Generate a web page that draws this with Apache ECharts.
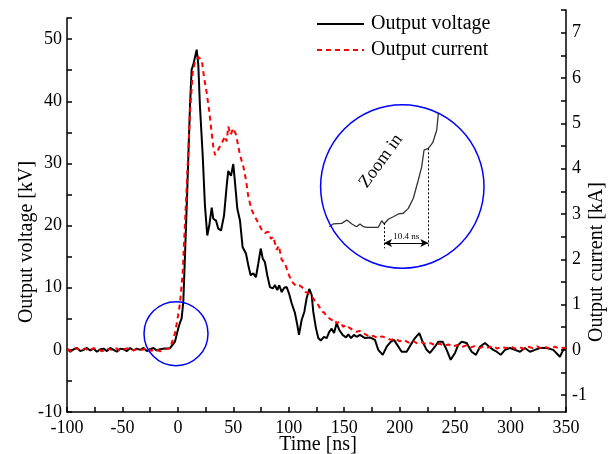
<!DOCTYPE html>
<html>
<head>
<meta charset="utf-8">
<script src="https://cdn.jsdelivr.net/npm/echarts@6/dist/echarts.min.js"></script>
<style>html,body{margin:0;padding:0;background:#fff}#c{width:611px;height:454px}</style>
</head>
<body>
<div id="c"></div>
<script>
// ---- data ----
const voltT = [-100,-97,-94,-91,-88,-85,-82,-79,-76,-73,-70,-67,-64,-61,-58,-55,-52,-49,-46,-43,-40,-37,-34,-31,-28,-25,-22,-19,-16,
  -12,-7.1,-2.6,0.36,1.9,3.4,4.9,6.4,8.5,10.9,12.4,13.9,16.95,18.4,19.9,22.4,24.4,26.5,28.3,30.5,31.9,34.4,36.4,38.9,41.6,44.0,45.4,47.0,47.9,49.95,
  51.5,53.6,56.0,58.4,61.4,63.5,65.6,68.0,70.4,72.5,74.7,76.5,78.5,80.6,83.0,85.5,87.6,89.6,91.4,93.6,95.9,98.1,100.2,102.6,105.6,107.7,109.2,
  111.6,114.0,116.1,118.5,120.7,122.1,124.5,126.6,128.8,131.7,134.2,136.5,138.7,140.8,143.2,145.5,148.6,151.6,153.7,156.1,158.8,161.2,164.2,
  168.7,173.2,177.7,180.7,184.7,188.3,191.9,194.9,197.8,201.8,206.3,209.9,213.8,217.7,220.7,224.3,227.3,231.8,234.8,238.8,242.4,246.0,249.9,
  252.8,255.9,260.4,264.9,268.8,272.4,276.9,280.8,284.4,287.5,291.1,295.0,299.5,304.0,308.5,313.0,317.5,322.0,326.5,332.5,338.5,344.5,347.5,350];
const voltV = [0.2,-0.3,0.1,0.3,-0.2,0,0.3,-0.1,0.2,-0.3,0.1,0.2,-0.2,0.3,0,-0.3,0.2,0.1,-0.2,0.3,-0.1,0.2,0,0.3,-0.2,0.1,0.3,-0.1,0.1,
  0.2,0.27,1.34,3.47,4.4,5.07,7.8,15.2,25.9,39.2,45.1,45.9,48.3,45.9,39.2,31.2,23.2,18.4,20.0,22.9,21.1,20.8,19.5,19.2,21.6,26.4,28.8,28.5,28.0,29.9,
  26.9,22.7,20.8,16.5,15.5,13.6,12.0,12.3,11.7,13.9,16.3,14.7,14.1,12.0,10.1,9.9,10.4,9.6,10.4,9.3,10.0,10.1,9.1,7.5,5.9,4.0,2.4,
  4.8,6.1,8.3,9.8,8.8,6.1,3.5,1.9,1.5,2.1,1.9,2.9,3.4,2.7,4.3,3.2,2.4,2.0,2.5,1.9,2.4,2.1,2.4,
  1.9,2.0,1.6,0,-0.8,0.5,1.3,1.6,0.8,-0.3,-0.3,0.8,1.9,2.7,1.3,0,-0.5,0.5,1.3,1.3,0,-1.6,-0.5,
  0.8,1.3,1.1,-0.3,-0.8,0.5,1.1,0.5,0,-0.3,-0.8,0,0.3,0,-0.3,0.3,-0.3,0,0.3,0.3,0,-1.1,0,0.3];

const currT = [-100,-96,-92,-88,-84,-80,-76,-72,-68,-64,-60,-56,-52,-48,-44,-40,-36,-32,-28,-24,-20,-16,-12,-7,
  -2.6,-0.5,1.9,4.3,6.4,8.5,10.9,13.3,15.4,18.4,21.5,23.5,26.0,28.3,30.5,31.9,33.5,36.4,39.5,42.5,44,45.4,47.6,50.0,52.4,56.0,59.0,61.4,63.5,66.5,
  69.5,72.5,75.6,78.5,81.5,84,86.0,89.1,91,93.6,96.6,99.5,102.6,105,107.1,110,113.1,115,117.6,120,122.1,124,126.6,128,129.7,132,134.2,136,138.7,
  141,143.2,146,149.1,152,155.2,158,161.2,164,167.2,170,173.2,176,180.7,184,188.3,192,196,200,204,208,212,216,220,224,228,232,236,240,244,248,
  252,256,260,264,268,272,276,280,284,288,292,296,300,304,308,312,316,320,324,328,332,336,340,344,348,350];
const currI = [0.02,-0.03,0.04,0,0.03,-0.02,0.04,0.01,-0.03,0.03,0,0.04,-0.02,0.02,0.04,-0.01,0.03,0,0.04,-0.02,0.02,-0.03,0.01,0.04,
  0.37,0.66,1.03,1.69,2.80,3.90,5.23,6.11,6.36,6.46,6.40,6.03,5.67,5.26,4.78,4.49,4.30,4.42,4.56,4.71,4.6,4.93,4.75,4.89,4.75,4.30,4.05,3.75,3.38,3.09,
  2.94,2.80,2.65,2.58,2.61,2.45,2.50,2.21,2.3,1.99,1.91,1.69,1.51,1.45,1.40,1.42,1.36,1.28,1.25,1.18,1.14,1.05,0.99,0.95,0.85,0.82,0.74,0.78,0.66,
  0.68,0.59,0.62,0.51,0.55,0.48,0.44,0.40,0.42,0.37,0.33,0.29,0.31,0.26,0.3,0.26,0.22,0.25,0.19,0.22,0.16,0.2,0.14,0.17,0.12,0.15,0.1,0.14,0.09,0.12,0.07,
  0.11,0.06,0.1,0.05,0.09,0.04,0.08,0.05,0.09,0.03,0.07,0.04,0.08,0.03,0.06,0.02,0.07,0.04,0.08,0.03,0.06,0.02,0.07,0.03,0.05,0.04];

// zoomed-in view of the rising edge (ns, kV)
const insetT = [-20.5,-19.6,-17.6,-16.4,-15.2,-14.1,-13.3,-12.5,-11.7,-9.0,-8.2,-7.66,-6.65,-5.48,-4.3,-3.13,-1.96,-0.78,0.39,1.19,1.73,2.74,3.77,4.71,5.09];
const insetV = [0.05,0.28,0.33,0.61,0.28,0.05,0.28,0.05,0,0,0.55,0.28,0.67,0.88,1.11,1.17,1.58,2.42,3.94,5.05,6.44,6.58,7.05,8.11,9.5];
const riseStart = -7.66, riseEnd = 2.74;

const xTicks = [-100,-50,0,50,100,150,200,250,300,350];
const leftTicks = [-10,0,10,20,30,40,50];
const rightTicks = [-1,0,1,2,3,4,5,6,7];
const seriesNames = ['Output voltage','Output current'];

// ---- chart ----
const FONT = '"Liberation Serif","Times New Roman",serif';
const zip = (a,b) => a.map((v,i)=>[v,b[i]]);
const halfSteps = (arr) => { const out=[]; arr.forEach((v,i)=>{ out.push(v); out.push(v+(i<arr.length-1?(arr[i+1]-v)/2:(arr[1]-arr[0])/2)); }); return out; };
const axisCol = '#000';
const chart = echarts.init(document.getElementById('c'), null, {renderer:'canvas'});

const leftTickVals = halfSteps(leftTicks).concat([53.4]);
const rightTickVals = halfSteps(rightTicks);

const option = {
  animation:false,
  backgroundColor:'#fff',
  grid:[
    {left:67, right:45, top:18, bottom:42},
    {left:67, right:45, top:10, bottom:42},
    {left:329.3, top:113.3, width:109.1, height:135}
  ],
  legend:{
    data:seriesNames, left:316, top:14, padding:0, orient:'vertical', itemWidth:47, itemHeight:14, itemGap:6,
    itemStyle:{color:'rgba(0,0,0,0)', borderWidth:0},
    textStyle:{fontFamily:FONT, fontSize:20, color:'#000', lineHeight:20, padding:[0,0,0,2]}
  },
  xAxis:[
    {type:'value', gridIndex:0, min:xTicks[0], max:xTicks[xTicks.length-1], interval:50,
     axisLine:{show:true, onZero:false, lineStyle:{color:axisCol, width:1.5}},
     axisTick:{show:true, inside:true, length:5, lineStyle:{color:axisCol, width:1.5}},
     minorTick:{show:true, splitNumber:2, length:5, lineStyle:{color:axisCol, width:1.5}},
     axisLabel:{fontFamily:FONT, fontSize:18, color:'#000', margin:7},
     splitLine:{show:false}, minorSplitLine:{show:false}},
    {type:'value', gridIndex:1, min:xTicks[0], max:xTicks[xTicks.length-1], show:false, axisLine:{onZero:false}},
    {type:'value', gridIndex:2, min:-20.5, max:5.1, show:false, axisLine:{onZero:false}}
  ],
  yAxis:[
    {type:'value', gridIndex:0, position:'left', min:-10, max:53.4,
     axisLine:{show:true, onZero:false, lineStyle:{color:axisCol, width:1.5}},
     axisTick:{show:true, inside:true, length:5, customValues:leftTickVals, lineStyle:{color:axisCol, width:1.5}},
     axisLabel:{customValues:leftTicks, fontFamily:FONT, fontSize:18, color:'#000', margin:5},
     splitLine:{show:false}},
    {type:'value', gridIndex:1, position:'right', min:-1.37, max:7.5,
     axisLine:{show:true, onZero:false, lineStyle:{color:axisCol, width:1.5}},
     axisTick:{show:true, inside:true, length:5, customValues:rightTickVals, lineStyle:{color:axisCol, width:1.5}},
     axisLabel:{customValues:rightTicks, fontFamily:FONT, fontSize:18, color:'#000', margin:6},
     splitLine:{show:false}},
    {type:'value', gridIndex:2, min:-1.75, max:9.5, show:false, axisLine:{onZero:false}}
  ],
  series:[
    {name:seriesNames[0], type:'line', xAxisIndex:0, yAxisIndex:0, data:zip(voltT,voltV), symbol:'none', showSymbol:false,
     lineStyle:{color:'#000', width:2}, itemStyle:{color:'#000'}, z:3},
    {name:seriesNames[1], type:'line', xAxisIndex:1, yAxisIndex:1, data:zip(currT,currI), symbol:'none', showSymbol:false,
     lineStyle:{color:'#ff0000', width:2, type:[5,4]}, itemStyle:{color:'#ff0000'}, z:4},
    {name:'inset', type:'line', xAxisIndex:2, yAxisIndex:2, data:zip(insetT,insetV), symbol:'none',
     lineStyle:{color:'#333', width:1.3}, itemStyle:{color:'#333'}, z:3,
     markLine:{silent:true, symbol:['none','none'], animation:false,
       lineStyle:{color:'#000', width:1, type:[2,2]}, label:{show:false},
       data:[
         [{coord:[riseStart,0.35]},{coord:[riseStart,-1.75]}],
         [{coord:[riseEnd,6.58]},{coord:[riseEnd,-1.75]}],
         [{coord:[riseStart,-1.31], symbol:'arrow', symbolSize:[6,8], lineStyle:{type:'solid', width:1.2, color:'#000'},
           label:{show:true, position:'middle', formatter:'10.4 ns', fontFamily:FONT, fontSize:9, color:'#000', distance:2}},
          {coord:[riseEnd,-1.31], symbol:'arrow', symbolSize:[6,8]}]
       ]}}
  ]
};
chart.setOption(option);

const small = chart.convertToPixel({gridIndex:0}, [-1.7, 2.6]);
chart.setOption({
  graphic:[
    {type:'circle', shape:{cx:small[0], cy:small[1], r:32}, style:{fill:'none', stroke:'#0000ff', lineWidth:1.5}, z:10},
    {type:'circle', shape:{cx:402.3, cy:186.5, r:81.7}, style:{fill:'none', stroke:'#0000ff', lineWidth:1.5}, z:10},
    {type:'text', x:381, y:161, rotation:54*Math.PI/180, style:{text:'Zoom in', font:'18px '+FONT, fill:'#000', align:'center', verticalAlign:'middle'}, z:10},
    {type:'text', x:27, y:242, rotation:Math.PI/2, style:{text:'Output voltage [kV]', font:'20px '+FONT, fill:'#000', align:'center', verticalAlign:'middle'}},
    {type:'text', x:597, y:262, rotation:Math.PI/2, style:{text:'Output current [kA]', font:'20px '+FONT, fill:'#000', align:'center', verticalAlign:'middle'}},
    {type:'text', x:318, y:445, style:{text:'Time [ns]', font:'20px '+FONT, fill:'#000', align:'center', verticalAlign:'middle'}}
  ]
});
</script>
</body>
</html>
